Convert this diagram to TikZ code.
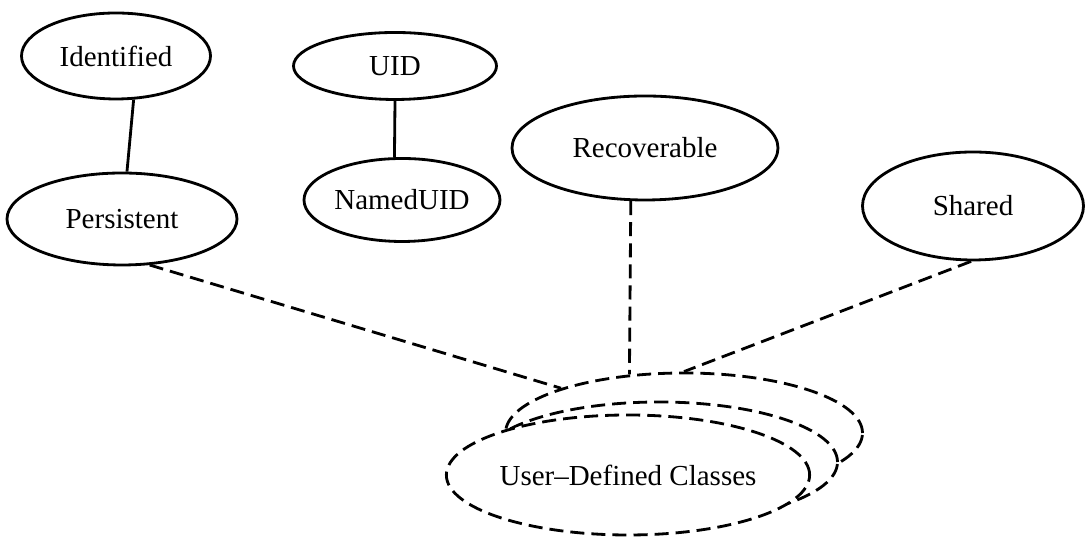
\documentclass[tikz,border=0pt]{standalone}
\usepackage{fontspec}
\setmainfont{Liberation Serif}
\usetikzlibrary{shapes.geometric}

\begin{document}
\begin{tikzpicture}[
        cls/.style={draw, ellipse, line width=1.6pt, inner sep=0pt,
            font=\fontsize{16.5}{19}\selectfont},
        usercls/.style={cls, dash pattern=on 8pt off 4pt, fill=white,
            minimum width=7.14cm, minimum height=2.4cm},
        solidlink/.style={line width=1.6pt},
        dashlink/.style={line width=1.6pt, dash pattern=on 8pt off 4pt}]
        \useasboundingbox (0,0) rectangle (21.7,10.78);

        \node[cls, minimum width=3.78cm, minimum height=1.72cm] (identified) at (2.32,9.66) {Identified};
        \node[cls, minimum width=4.60cm, minimum height=1.84cm] (persistent) at (2.44,6.40) {Persistent};
        \node[cls, minimum width=4.06cm, minimum height=1.34cm] (uid) at (7.90,9.46) {UID};
        \node[cls, minimum width=3.92cm, minimum height=1.66cm] (nameduid) at (8.04,6.78) {NamedUID};
        \node[cls, minimum width=5.32cm, minimum height=2.08cm] (recoverable) at (12.90,7.82) {Recoverable};
        \node[cls, minimum width=4.42cm, minimum height=2.16cm] (shared) at (19.46,6.66) {Shared};

        % stacked user classes, back to front
        \node[usercls] (userback) at (13.68,2.12) {};
        \node[usercls] (usermid) at (13.18,1.54) {};
        \node[usercls] (userfront) at (12.56,1.28) {User--Defined Classes};

        \draw[solidlink] (identified.-68) -- (persistent.84);
        \draw[solidlink] (uid.south) -- (nameduid.100);
        \draw[dashlink] (persistent.-59) -- (userback.160);
        \draw[dashlink] (recoverable.-105) -- (userback.133);
        \draw[dashlink] (shared.-92) -- (userback.north);
    \end{tikzpicture}
\end{document}
